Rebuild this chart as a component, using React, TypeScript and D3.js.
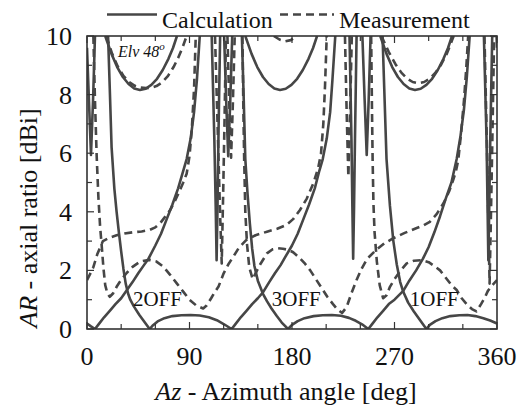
import { line, range, scaleLinear } from 'd3'

const WIDTH = 520
const HEIGHT = 410
const MARGIN = { top: 36, right: 23, bottom: 81, left: 87 }
const INNER_WIDTH = WIDTH - MARGIN.left - MARGIN.right
const INNER_HEIGHT = HEIGHT - MARGIN.top - MARGIN.bottom

type Pt = [number, number] | null

// [azimuth deg, AR dB]; null = curve leaves the plot above 10 dB
const calc2OFF: Pt[] = [
  [18.5, 10], [20, 8.2], [21.6, 6.2], [24, 4.8], [26, 4.0], [28, 3.3], [30, 2.65], [32, 2.05], [34, 1.55], [36, 1.22],
  [38, 1.0], [41, 0.78], [46, 0.48], [50.5, 0.24], [55, 0],
  [58, 0.13], [62, 0.26], [68, 0.37], [75, 0.44], [83, 0.47], [91, 0.48], [99, 0.46], [107, 0.4], [114, 0.3], [120, 0.17], [127, 0],
  [130, 0.15], [135, 0.4], [140, 0.62], [145, 0.85], [150, 1.05], [154.5, 1.25], [160, 1.6], [165, 1.9], [170, 2.18],
  [174, 2.45], [180, 2.85], [185, 3.25], [190, 3.75], [195, 4.25], [200, 4.8], [204, 5.4], [207, 5.8], [210.5, 6.5],
  [213.5, 7.4], [215.5, 8.5], [218, 10], null,
  [230.5, 10], [232.2, 6.5], [233, 4.2], [233.7, 2.4], [234.5, 4.2], [235.3, 6.5], [236.7, 10], null,
  [241.8, 10], [243.8, 7.8], [245.6, 5.94], [247.3, 7.8], [249, 10], null,
  [257.5, 10], [263, 9.39], [268, 8.94], [273, 8.6], [278, 8.36], [283, 8.21], [288, 8.16], [293, 8.2], [298, 8.33],
  [303, 8.54], [308, 8.84], [313, 9.22], [317, 9.59], [320.5, 10],
]

const calc3OFF: Pt[] = [
  [0, 9.6], [1.7, 7.8], [3.5, 5.94], [5.3, 7.8], [7, 10], null,
  [16, 10], [21.5, 9.39], [26.5, 8.94], [31.5, 8.6], [36.5, 8.36], [41.5, 8.21], [46.5, 8.16], [51.5, 8.2], [56.5, 8.33],
  [61.5, 8.54], [66.5, 8.84], [71.5, 9.22], [75.5, 9.59], [79, 10], null,
  [136, 10], [137.5, 8.0], [139, 5.8], [141, 4.6], [143, 3.6], [145, 2.75], [147, 2.15], [150, 1.65], [154.5, 1.2],
  [158, 0.95], [162, 0.7], [166.5, 0.45], [171, 0.22], [176.5, 0],
  [180, 0.14], [185, 0.27], [191, 0.37], [199, 0.44], [207, 0.47], [215, 0.48], [223, 0.45], [230, 0.38], [236, 0.28],
  [241.5, 0.16], [247, 0],
  [250, 0.15], [255, 0.4], [260, 0.62], [265, 0.85], [270, 1.0], [277.7, 1.3], [283, 1.65], [289, 2.0], [295, 2.4],
  [300, 2.8], [305, 3.3], [310, 3.85], [315, 4.45], [320, 5.0], [324.6, 5.8], [328, 6.6], [331, 7.5], [333.5, 8.6], [336, 10], null,
  [348.5, 10], [350.8, 6.5], [351.7, 4.2], [352.4, 2.35], [353.2, 4.2], [354.1, 6.5], [355.8, 10], null,
  [359.6, 10], [360, 9.6],
]

const calc1OFF: Pt[] = [
  [0, 0.19], [3.5, 0.09], [7, 0],
  [10, 0.15], [15, 0.4], [20, 0.62], [25, 0.85], [30, 1.05], [34, 1.27], [40, 1.6], [45, 1.9], [50, 2.18], [54, 2.4],
  [60, 2.85], [65, 3.25], [70, 3.75], [75, 4.25], [80, 4.8], [84.5, 5.4], [87.5, 5.8], [91, 6.5], [94, 7.4], [96.5, 8.5], [99, 10], null,
  [109.5, 10], [111.8, 6.5], [113, 4.2], [113.8, 2.35], [114.6, 4.2], [115.4, 6.5], [116.9, 10], null,
  [120.4, 10], [122.2, 7.8], [124, 5.9], [125.8, 7.8], [127.5, 10], null,
  [139, 10], [144.5, 9.39], [149.5, 8.94], [154.5, 8.6], [159.5, 8.36], [164.5, 8.21], [169.5, 8.16], [174.5, 8.2],
  [179.5, 8.33], [184.5, 8.54], [189.5, 8.84], [194.5, 9.22], [198.5, 9.59], [202, 10], null,
  [259.5, 10], [261, 8.2], [263, 5.8], [266, 4.2], [269, 3.0], [272, 2.2], [275, 1.6], [277.7, 1.27], [282, 0.9],
  [287, 0.6], [292.5, 0.3], [298, 0],
  [301, 0.14], [306, 0.27], [312, 0.37], [319, 0.44], [327, 0.47], [334, 0.48], [341, 0.44], [348, 0.37], [354, 0.29], [360, 0.19],
]

const meas2OFF: Pt[] = [
  [5.6, 10], [7, 7.8], [8.5, 5.9], [10, 4.5], [11.5, 3.5], [13, 2.8], [14.5, 2.05], [16, 1.5], [18, 1.2], [20, 1.1],
  [23, 1.22], [26, 1.44], [30, 1.68], [35, 1.92], [40, 2.12], [46.5, 2.3], [55, 2.36], [61, 2.3], [67, 2.13], [73, 1.85],
  [79, 1.55], [85, 1.25], [90, 1.0], [96, 0.8], [102, 0.7],
  [105, 0.8], [109, 1.05], [112, 1.25], [115.5, 1.45], [120, 1.9], [124, 2.2], [128.5, 2.47], [133, 2.75], [137, 2.92],
  [140, 3.04], [148, 3.2], [158, 3.32], [167, 3.42], [175, 3.55], [181, 3.75], [187, 4.06], [193, 4.45], [199, 5.0],
  [203, 5.5], [205.5, 6.0], [207.5, 7.0], [209, 8.3], [210.5, 10], null,
  [226.5, 10], [228, 7.4], [229.5, 5.2], [231, 7.4], [232.5, 10], null,
  [258.5, 10], [265, 9.45], [271, 9.03], [276, 8.75], [281, 8.55], [286, 8.43], [291, 8.39], [296, 8.43], [301, 8.55],
  [306, 8.75], [311, 9.03], [316, 9.4], [320.5, 9.85], [322, 10],
]

const meas3OFF: Pt[] = [
  [17, 10], [22, 9.4], [27, 8.96], [32, 8.64], [37, 8.43], [42, 8.3], [47, 8.24], [52, 8.22], [57, 8.24], [61, 8.29],
  [66, 8.42], [71, 8.63], [76, 8.94], [80, 9.25], [84, 9.62], [87.5, 10], null,
  [136.5, 10], [137.3, 7.5], [138, 5.8], [139, 4.0], [140.5, 2.9], [142.5, 2.1], [145.5, 1.7], [148, 1.9], [152, 2.2],
  [158, 2.58], [163, 2.72], [167, 2.76], [172, 2.74], [177, 2.7], [181, 2.62], [186, 2.45], [191, 2.25], [196, 2.0],
  [201, 1.7], [206, 1.4], [211, 1.1], [216, 0.85], [220, 0.66], [224, 0.55],
  [228, 0.75], [232, 1.2], [236.7, 1.67], [241, 2.05], [246, 2.4], [254, 2.7], [261, 2.92], [269, 3.1], [279, 3.28],
  [289, 3.44], [295, 3.53], [301, 3.66], [307, 3.92], [313, 4.29], [318, 4.7], [321.5, 5.08], [324, 5.4], [326, 5.77],
  [328.5, 6.7], [331, 7.8], [333, 8.9], [334.7, 10], null,
  [349, 10], [351.3, 6.0], [352.5, 3.5], [353.5, 1.55], [354.5, 3.5], [355.7, 6.0], [357.5, 10],
]

const meas1OFF: Pt[] = [
  [0, 1.67], [3, 1.9], [5.5, 2.1], [9, 2.55], [14, 3.0], [20, 3.12], [26, 3.2], [33, 3.26], [40, 3.3], [48, 3.33],
  [55, 3.38], [60, 3.47], [64, 3.6], [68, 3.8], [73, 4.06], [77, 4.35], [81.6, 4.74], [84.5, 5.0], [87.5, 5.3], [90, 5.9],
  [92, 6.8], [94, 8.2], [95.5, 10], null,
  [112.4, 10], [115, 6.5], [116.8, 4.0], [118.3, 2.24], [119.5, 4.5], [120.7, 7.0], [122, 10], null,
  [123.3, 10], [125, 7.6], [126.5, 5.85], [128, 7.6], [129.7, 10], null,
  [164, 10], [169, 9.88], [174, 9.82], [179, 9.86], [184, 10], null,
  [249.5, 10], [250.2, 7.6], [250.8, 5.77], [251.5, 4.3], [252.5, 3.3], [254.5, 2.3], [257, 1.5], [260, 1.05], [263, 1.15],
  [266, 1.44], [270, 1.7], [275, 1.98], [280.7, 2.24], [287, 2.33], [294, 2.35], [300, 2.28], [305, 2.15], [310, 2.0],
  [315, 1.75], [320, 1.5], [324.6, 1.33], [329, 1.05], [334, 0.82], [338, 0.68], [342, 0.6],
  [346, 0.85], [349, 1.05], [352, 1.3], [356, 1.5], [360, 1.67],
]

const calcSeries = [calc2OFF, calc3OFF, calc1OFF]
const measSeries = [meas2OFF, meas3OFF, meas1OFF]

const xTickLabels = [0, 90, 180, 270, 360]
const yTickLabels = [0, 2, 4, 6, 8, 10]
const offLabels = [
  { text: '2OFF', az: 40.3, ar: 0.77 },
  { text: '3OFF', az: 162.2, ar: 0.77 },
  { text: '1OFF', az: 283.4, ar: 0.77 },
]

const FONT = '"Liberation Serif", "Times New Roman", Times, serif'
const INK = '#464646'
const FRAME = '#333'

export default function App() {
  const x = scaleLinear().domain([0, 360]).range([0, INNER_WIDTH])
  const y = scaleLinear().domain([0, 10]).range([INNER_HEIGHT, 0])

  const path = line<Pt>()
    .defined((d) => d !== null)
    .x((d) => x(d![0]))
    .y((d) => y(d![1]))

  return (
    <svg
      width={WIDTH}
      height={HEIGHT}
      viewBox={`0 0 ${WIDTH} ${HEIGHT}`}
      style={{ position: 'absolute', left: 0, top: 0, background: '#fff', fontFamily: FONT }}
    >
      <defs>
        <clipPath id="plot">
          <rect x={0} y={0} width={INNER_WIDTH} height={INNER_HEIGHT} />
        </clipPath>
      </defs>

      {/* legend */}
      <g>
        <line x1={107} x2={157} y1={14.5} y2={14.5} stroke={INK} strokeWidth={2.6} />
        <text x={162} y={27.5} fontSize={24} fill="#111">Calculation</text>
        <line x1={280} x2={334} y1={14.5} y2={14.5} stroke={INK} strokeWidth={2.6} strokeDasharray="8 5" />
        <text x={339} y={27.5} fontSize={24} fill="#111">Measurement</text>
      </g>

      <g transform={`translate(${MARGIN.left}, ${MARGIN.top})`}>
        <g clipPath="url(#plot)" fill="none" stroke={INK} strokeWidth={2.6} strokeLinejoin="round">
          {calcSeries.map((s, i) => (
            <path key={`c${i}`} d={path(s) ?? undefined} />
          ))}
          {measSeries.map((s, i) => (
            <path key={`m${i}`} d={path(s) ?? undefined} strokeDasharray="8 5" />
          ))}
        </g>

        {offLabels.map((l) => (
          <text key={l.text} x={x(l.az)} y={y(l.ar)} fontSize={21} fill="#111">
            {l.text}
          </text>
        ))}

        <text x={31} y={21} fontSize={16} fontStyle="italic" fill="#111">
          Elv 48<tspan fontSize={11} dy={-7}>o</tspan>
        </text>

        {/* ticks */}
        <g stroke={FRAME} strokeWidth={1.2}>
          {range(0, 361, 30).map((t) => {
            const len = t % 90 === 0 ? 7 : 5
            return (
              <g key={`xt${t}`}>
                <line x1={x(t)} x2={x(t)} y1={INNER_HEIGHT} y2={INNER_HEIGHT - len} />
                <line x1={x(t)} x2={x(t)} y1={0} y2={len} />
              </g>
            )
          })}
          {range(0, 11, 1).map((t) => {
            const len = t % 2 === 0 ? 7 : 5
            return (
              <g key={`yt${t}`}>
                <line x1={0} x2={len} y1={y(t)} y2={y(t)} />
                <line x1={INNER_WIDTH} x2={INNER_WIDTH - len} y1={y(t)} y2={y(t)} />
              </g>
            )
          })}
        </g>
        <rect x={0} y={0} width={INNER_WIDTH} height={INNER_HEIGHT} fill="none" stroke={FRAME} strokeWidth={1.6} />

        {xTickLabels.map((t) => (
          <text key={`xl${t}`} x={x(t)} y={INNER_HEIGHT + 36} fontSize={26} textAnchor="middle" fill="#111">
            {t}
          </text>
        ))}
        {yTickLabels.map((t) => (
          <text key={`yl${t}`} x={-15} y={y(t) + 9} fontSize={26} textAnchor="end" fill="#111">
            {t}
          </text>
        ))}

        <text x={INNER_WIDTH / 2 - 6} y={INNER_HEIGHT + 71} fontSize={26} textAnchor="middle" fill="#111">
          <tspan fontStyle="italic">Az</tspan> - Azimuth angle [deg]
        </text>
        <text transform={`translate(${-50}, ${182}) rotate(-90)`} fontSize={26} textAnchor="middle" fill="#111">
          <tspan fontStyle="italic">AR</tspan> - axial ratio [dBi]
        </text>
      </g>
    </svg>
  )
}
